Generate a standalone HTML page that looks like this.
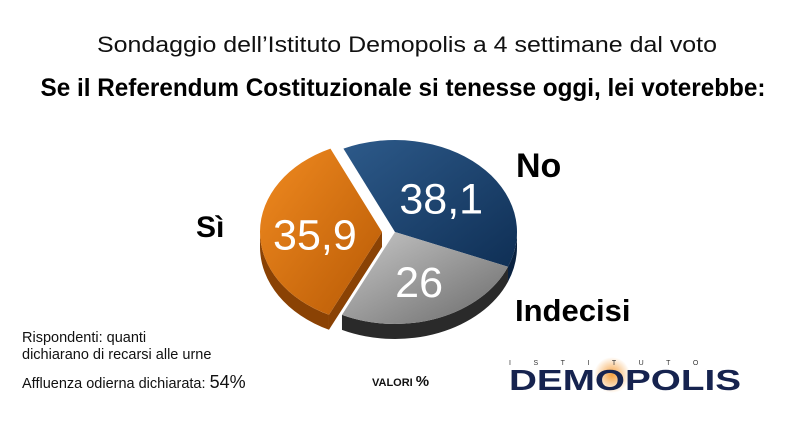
<!DOCTYPE html>
<html><head><meta charset="utf-8"><style>
html,body{margin:0;padding:0;background:#fff;}
svg{display:block;font-family:"Liberation Sans",sans-serif;}
</style></head><body>
<svg id="c" width="800" height="430" viewBox="0 0 800 430">
<defs>
<linearGradient id="gBlue" x1="0" y1="0" x2="1" y2="1"><stop offset="0" stop-color="#2d5a8a"/><stop offset="1" stop-color="#0f2f55"/></linearGradient>
<linearGradient id="gGray" x1="0" y1="0" x2="1" y2="1"><stop offset="0" stop-color="#c8c8c8"/><stop offset="1" stop-color="#6a6a6a"/></linearGradient>
<linearGradient id="gOrange" x1="0" y1="0" x2="1" y2="1"><stop offset="0" stop-color="#f08a20"/><stop offset="1" stop-color="#b85a05"/></linearGradient>
<radialGradient id="glow"><stop offset="0" stop-color="#f5a040"/><stop offset="1" stop-color="#f5a040" stop-opacity="0"/></radialGradient>
</defs>
<text x="407" y="52" text-anchor="middle" font-size="22" textLength="620" lengthAdjust="spacingAndGlyphs" fill="#111">Sondaggio dell’Istituto Demopolis a 4 settimane dal voto</text>
<text x="403" y="96" text-anchor="middle" font-size="25" font-weight="bold" textLength="725" lengthAdjust="spacingAndGlyphs" fill="#000">Se il Referendum Costituzionale si tenesse oggi, lei voterebbe:</text>
<g id="pie"></g>
<text x="516" y="177" font-size="34" font-weight="bold" fill="#000">No</text>
<text x="196" y="237" font-size="30" font-weight="bold" fill="#000">Sì</text>
<text x="515" y="321" font-size="31" font-weight="bold" fill="#000">Indecisi</text>
<text x="22" y="342" font-size="14.5" fill="#111">Rispondenti: quanti</text>
<text x="22" y="359" font-size="14.5" fill="#111">dichiarano di recarsi alle urne</text>
<text x="22" y="388" font-size="14.5" fill="#111">Affluenza odierna dichiarata: <tspan font-size="18">54%</tspan></text>
<text x="372" y="386" font-size="11" font-weight="bold" fill="#111">VALORI <tspan font-size="15">%</tspan></text>
<g>
<circle cx="612" cy="375" r="18" fill="url(#glow)"/>
<text x="509" y="365" font-size="7" fill="#333" letter-spacing="22.5">ISTITUTO</text>
<text x="509" y="390" font-size="29" font-weight="bold" fill="#16234f" textLength="232" lengthAdjust="spacingAndGlyphs">DEMOPOLIS</text>
</g>
</svg>
<script>
const categories = ["No", "Indecisi", "Sì"];
const values = [38.1, 26, 35.9];
const labels = ["38,1", "26", "35,9"];
const fills = ["url(#gBlue)", "url(#gGray)", "url(#gOrange)"];
const sides = ["#0a2240", "#2a2a2a", "#8a4204"];
const NS = "http://www.w3.org/2000/svg";
const cx = 395, cy = 232, rx = 122, ry = 92, depth = 15, start = -115;
const pie = document.getElementById('pie');
const total = values.reduce((a, b) => a + b, 0);
function pt(a, ox, oy, dy) { const r = a * Math.PI / 180; return [cx + ox + rx * Math.cos(r), cy + oy + dy + ry * Math.sin(r)]; }
let a0 = start;
values.forEach((v, i) => {
  const sweep = v / total * 360, a1 = a0 + sweep, mid = (a0 + a1) / 2;
  const ex = i === 2 ? 13 : 0;
  const ox = ex * Math.cos(mid * Math.PI / 180), oy = ex * Math.sin(mid * Math.PI / 180) * 0.6;
  const large = sweep > 180 ? 1 : 0;
  const s0 = Math.max(a0, 0), s1 = Math.min(a1, 180);
  if (s1 > s0) {
    const p0 = pt(s0, ox, oy, 0), p1 = pt(s1, ox, oy, 0), q1 = pt(s1, ox, oy, depth), q0 = pt(s0, ox, oy, depth);
    const side = document.createElementNS(NS, 'path');
    side.setAttribute('d', `M${p0}A${rx},${ry} 0 0 1 ${p1}L${q1}A${rx},${ry} 0 0 0 ${q0}Z`);
    side.setAttribute('fill', sides[i]);
    
    
    pie.appendChild(side);
  }
  if (i === 2) {
    const c0 = pt(a0, ox, oy, 0);
    const cut = document.createElementNS(NS, 'path');
    cut.setAttribute('d', `M${cx + ox},${cy + oy}L${c0}L${c0[0]},${c0[1] + depth}L${cx + ox},${cy + oy + depth}Z`);
    cut.setAttribute('fill', sides[i]);
    
    
    pie.appendChild(cut);
  }
  const p0 = pt(a0, ox, oy, 0), p1 = pt(a1, ox, oy, 0);
  const s = document.createElementNS(NS, 'path');
  s.setAttribute('d', `M${cx + ox},${cy + oy}L${p0}A${rx},${ry} 0 ${large} 1 ${p1}Z`);
  s.setAttribute('fill', fills[i]);
  
  
  pie.appendChild(s);
  const lr = mid * Math.PI / 180;
  const t = document.createElementNS(NS, 'text');
  t.setAttribute('x', cx + ox + rx * 0.55 * Math.cos(lr));
  t.setAttribute('y', cy + oy + ry * 0.55 * Math.sin(lr) + 18);
  t.setAttribute('text-anchor', 'middle');
  t.setAttribute('font-size', '43');
  t.setAttribute('fill', '#fff');
  t.textContent = labels[i];
  
  
  pie.appendChild(t);
  a0 = a1;
});
</script>
</body></html>
